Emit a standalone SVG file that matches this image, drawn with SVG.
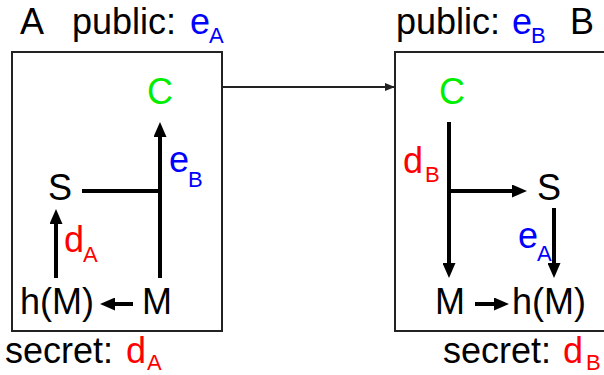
<svg xmlns="http://www.w3.org/2000/svg" width="604" height="375" viewBox="0 0 604 375">
<defs>
<style>
text{font-family:"Liberation Sans",Arial,sans-serif;font-size:36px;fill:#000}
.sub{font-size:22px}
.g{fill:#00ee00}.b{fill:#0000ff}.r{fill:#ff0000}
.box{fill:#fff;stroke:#222;stroke-width:2}
.thick{stroke:#000;stroke-width:4;fill:none}
.thin{stroke:#222;stroke-width:1.8;fill:none}
</style>
<marker id="ah" markerUnits="userSpaceOnUse" viewBox="0 0 15 13" refX="4" refY="6.5" markerWidth="15" markerHeight="13" orient="auto">
<path d="M0,0 L15,6.5 L0,13 z" fill="#000"/>
</marker>
<marker id="as" markerUnits="userSpaceOnUse" viewBox="0 0 10 8" refX="9" refY="4" markerWidth="10" markerHeight="8" orient="auto">
<path d="M0,0 L10,4 L0,8 z" fill="#222"/>
</marker>
</defs>
<rect width="604" height="375" fill="#fff"/>
<g id="boxA"><rect class="box" x="12" y="52" width="210" height="279"/></g>
<g id="boxB"><rect class="box" x="395" y="52" width="220" height="279"/></g>
<g id="labels">
<text x="20" y="34">A</text>
<text x="72" y="34">public:</text>
<text class="b" x="190" y="34">e</text><text class="b sub" x="209" y="43">A</text>
<text x="396" y="34">public:</text>
<text class="b" x="512" y="34">e</text><text class="b sub" x="531" y="43">B</text>
<text x="570" y="34">B</text>
<text x="5" y="363">secret:</text>
<text class="r" x="126" y="363">d</text><text class="r sub" x="147" y="370">A</text>
<text x="443" y="363">secret:</text>
<text class="r" x="563" y="363">d</text><text class="r sub" x="586" y="370">B</text>
</g>
<g id="nodeA-C"><text class="g" x="160" y="104" text-anchor="middle">C</text></g>
<g id="nodeA-S"><text x="60" y="200" text-anchor="middle">S</text></g>
<g id="nodeA-hM"><text x="20" y="314">h(M)</text></g>
<g id="nodeA-M"><text x="142" y="314">M</text></g>
<g id="nodeB-C"><text class="g" x="452" y="104" text-anchor="middle">C</text></g>
<g id="nodeB-S"><text x="549" y="200" text-anchor="middle">S</text></g>
<g id="nodeB-M"><text x="435" y="314">M</text></g>
<g id="nodeB-hM"><text x="512" y="314">h(M)</text></g>
<g id="connectors">
<line class="thin" x1="222" y1="87" x2="394" y2="87" marker-end="url(#as)"/>
<line class="thick" x1="160" y1="278" x2="160" y2="133" marker-end="url(#ah)"/>
<line class="thick" x1="82" y1="191" x2="160" y2="191"/>
<line class="thick" x1="56" y1="278" x2="56" y2="220" marker-end="url(#ah)"/>
<line class="thick" x1="133" y1="304" x2="111" y2="304" marker-end="url(#ah)"/>
<line class="thick" x1="449" y1="122" x2="449" y2="267" marker-end="url(#ah)"/>
<line class="thick" x1="449" y1="191" x2="516" y2="191" marker-end="url(#ah)"/>
<line class="thick" x1="554" y1="208" x2="554" y2="267" marker-end="url(#ah)"/>
<line class="thick" x1="475" y1="304" x2="498" y2="304" marker-end="url(#ah)"/>
</g>
<g id="edge-labels">
<text class="b" x="169" y="172">e</text><text class="b sub" x="188" y="187">B</text>
<text class="r" x="64" y="252">d</text><text class="r sub" x="83" y="262">A</text>
<text class="b" x="518" y="248">e</text><text class="b sub" x="537" y="261">A</text>
<text class="r" x="403" y="173">d</text><text class="r sub" x="425" y="182">B</text>
</g>
</svg>
